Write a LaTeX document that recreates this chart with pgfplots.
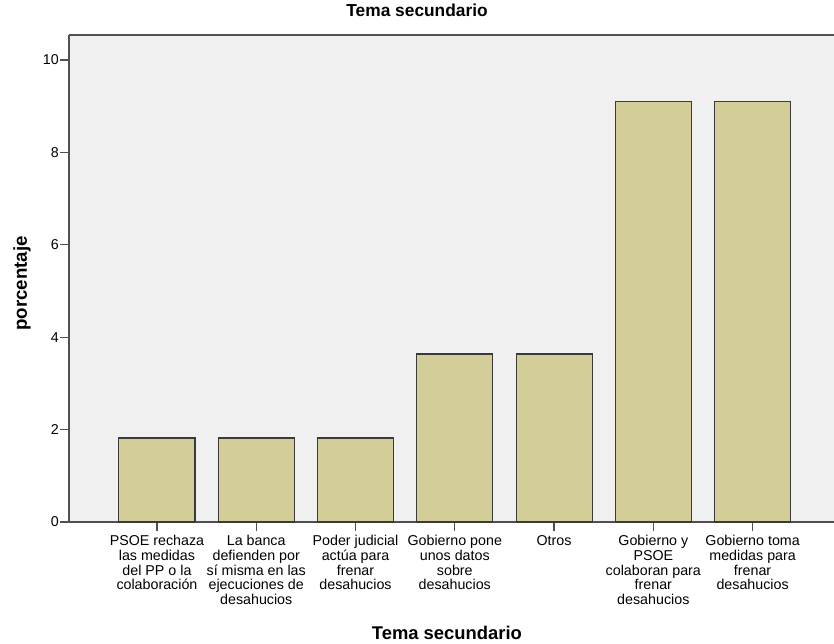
\documentclass[border=0pt]{standalone}
\usepackage{pgfplots}
\pgfplotsset{compat=1.18}
\usepackage{fontspec}
\setmainfont{Liberation Sans}
\definecolor{bgcol}{HTML}{F0F0F0}
\definecolor{barcol}{HTML}{D3CE98}
\definecolor{edgecol}{HTML}{3A3A3A}
\definecolor{axcol}{HTML}{505050}
\begin{document}
\begin{tikzpicture}
\begin{axis}[
  at={(0,0)}, anchor=south west,
  scale only axis,
  width=573.75pt, height=365.25pt,
  xmin=-0.886, xmax=6.82,
  ymin=0, ymax=10.54,
  axis lines=left,
  axis line style={-, draw=axcol, line width=1pt},
  axis background/.style={fill=bgcol},
  ytick={0,2,4,6,8,10},
  xtick={0,1,2,3,4,5,6},
  xticklabels={{PSOE rechaza\\las medidas\\del PP o la\\colaboración},
               {La banca\\defienden por\\sí misma en las\\ejecuciones de\\desahucios},
               {Poder judicial\\actúa para\\frenar\\desahucios},
               {Gobierno pone\\unos datos\\sobre\\desahucios},
               {Otros},
               {Gobierno y\\PSOE\\colaboran para\\frenar\\desahucios},
               {Gobierno toma\\medidas para\\frenar\\desahucios}},
  tick align=outside,
  major tick length=6.5pt,
  tick style={draw=axcol, line width=0.9pt},
  /pgf/number format/assume math mode=true,
  xticklabel style={font=\fontsize{10.7}{11}\selectfont, align=center, anchor=north, inner sep=1pt, yshift=-2.5pt},
  yticklabel style={font=\fontsize{10.7}{12}\selectfont, inner sep=1pt},
  title={\textbf{Tema secundario}},
  title style={at={(axis description cs:0.455,1)}, anchor=base, yshift=7.5pt, font=\fontsize{13}{15}\selectfont},
  xlabel={\textbf{Tema secundario}},
  xlabel style={at={(axis description cs:0.494,-0.228)}, anchor=center, font=\fontsize{13.8}{15}\selectfont},
  ylabel={\textbf{porcentaje}},
  ylabel style={at={(axis description cs:-0.0614,0.49)}, anchor=center, font=\fontsize{14}{15}\selectfont},
  ybar, bar width=0.766,
  clip=false,
]
\addplot[fill=barcol, draw=edgecol, line width=0.8pt] coordinates {
  (0,1.818) (1,1.818) (2,1.818) (3,3.636) (4,3.636) (5,9.091) (6,9.091)
};
\draw[axcol, line width=1pt] (rel axis cs:0,1) -- (rel axis cs:1,1);
\end{axis}
\pgfresetboundingbox
\path (-51.75pt,-90.75pt) rectangle (573.75pt,391.5pt);
\end{tikzpicture}
\end{document}
